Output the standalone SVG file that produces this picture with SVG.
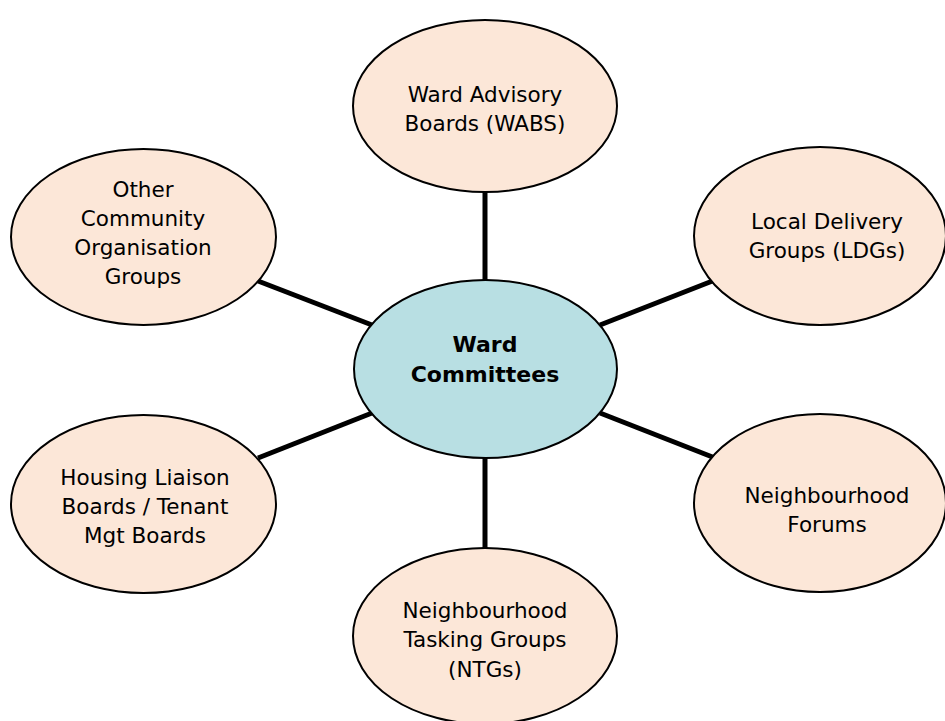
<svg xmlns="http://www.w3.org/2000/svg" width="945" height="721" viewBox="0 0 945 721">
<style>
.n{fill:#FCE7D8;stroke:#000;stroke-width:2}
.c{fill:#B8DFE3;stroke:#000;stroke-width:2}
.t{font-family:"DejaVu Sans",Verdana,sans-serif;font-size:21.5px;fill:#000;text-anchor:middle}
.b{font-family:"DejaVu Sans",Verdana,sans-serif;font-size:22px;font-weight:bold;fill:#000;text-anchor:middle}
.e{stroke:#000;stroke-width:5;fill:none}
</style>
<rect width="945" height="721" fill="#fff"/>
<g id="connectors">
<line class="e" x1="485" y1="192" x2="485" y2="281"/>
<line class="e" x1="485" y1="457" x2="485" y2="549"/>
<line class="e" x1="258" y1="281" x2="372" y2="325"/>
<line class="e" x1="600" y1="325" x2="715" y2="280"/>
<line class="e" x1="258" y1="458" x2="372" y2="413"/>
<line class="e" x1="600" y1="413" x2="715" y2="458"/>
</g>
<g id="wabs">
<ellipse class="n" cx="485" cy="106" rx="132" ry="86"/>
<text class="t" x="485" y="102">Ward Advisory</text>
<text class="t" x="485" y="131">Boards (WABS)</text>
</g>
<g id="ldg">
<ellipse class="n" cx="820" cy="236" rx="126" ry="89"/>
<text class="t" x="827" y="229">Local Delivery</text>
<text class="t" x="827" y="258">Groups (LDGs)</text>
</g>
<g id="other">
<ellipse class="n" cx="143.5" cy="237" rx="132.5" ry="88"/>
<text class="t" x="143" y="197">Other</text>
<text class="t" x="143" y="226">Community</text>
<text class="t" x="143" y="255">Organisation</text>
<text class="t" x="143" y="284">Groups</text>
</g>
<g id="center">
<ellipse class="c" cx="485.5" cy="369" rx="131.5" ry="89"/>
<text class="b" x="485" y="352">Ward</text>
<text class="b" x="485" y="382">Committees</text>
</g>
<g id="housing">
<ellipse class="n" cx="143.5" cy="504" rx="132.5" ry="89"/>
<text class="t" x="145" y="485">Housing Liaison</text>
<text class="t" x="145" y="514">Boards / Tenant</text>
<text class="t" x="145" y="543">Mgt Boards</text>
</g>
<g id="forums">
<ellipse class="n" cx="820" cy="503" rx="126" ry="89"/>
<text class="t" x="827" y="503">Neighbourhood</text>
<text class="t" x="827" y="532">Forums</text>
</g>
<g id="ntg">
<ellipse class="n" cx="485" cy="636" rx="132" ry="88"/>
<text class="t" x="485" y="618">Neighbourhood</text>
<text class="t" x="485" y="647">Tasking Groups</text>
<text class="t" x="485" y="677">(NTGs)</text>
</g>
</svg>
